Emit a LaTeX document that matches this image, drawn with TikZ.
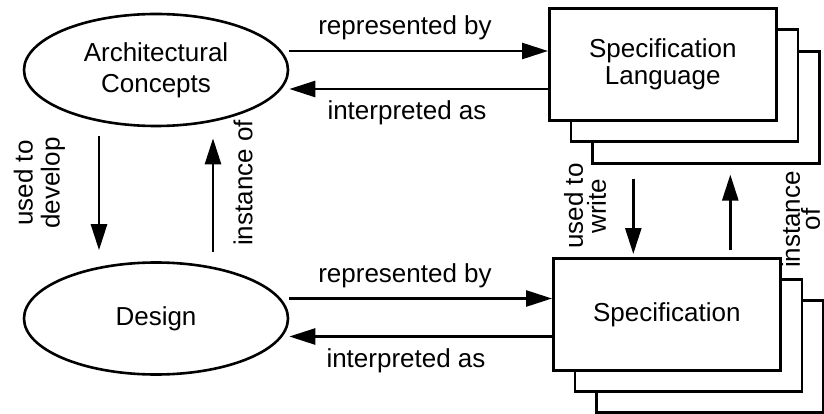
\documentclass[tikz,border=0pt]{standalone}
\usepackage{fontspec}
\setmainfont{Liberation Sans}
\usetikzlibrary{arrows.meta,shapes.geometric,calc}
\begin{document}
\begin{tikzpicture}[x=1pt,y=-1pt,
  every node/.style={font=\fontsize{26}{27}\selectfont},
  concept/.style={ellipse,draw,line width=2.6pt,minimum width=264pt,minimum height=112pt,inner sep=0pt,align=center},
  sheet/.style={rectangle,draw,line width=2.6pt,fill=white,minimum width=227pt,minimum height=112pt,inner sep=0pt,align=center,anchor=north west},
  arr/.style={line width=2.6pt,-{Triangle[length=26pt,width=16pt]}},
  lbl/.style={inner sep=0pt,anchor=base},
  vlbl/.style={inner sep=0pt,rotate=90,align=center}]
\useasboundingbox (0,0) rectangle (824,414);

% concepts
\node[concept] (ac) at (156,70) {Architectural\\[4pt]Concepts};
\node[concept] (ds) at (156,318.5) {Design};

% stacked sheets, back to front
\node[sheet] (sl3) at (591,50) {};
\node[sheet] (sl2) at (569.5,28.5) {};
\node[sheet] (sl) at (548,7) {Specification\\Language};
\node[sheet] (sp3) at (595,299) {};
\node[sheet] (sp2) at (573.5,278) {};
\node[sheet] (sp) at (552,257) {Specification};

% horizontal connectors
\coordinate (r1) at ([yshift=19pt]ac.east);
\coordinate (i1) at ([yshift=-19pt]ac.east);
\coordinate (r2) at ([yshift=20pt]ds.east);
\coordinate (i2) at ([yshift=-18pt]ds.east);
\draw[arr] (r1) -- (r1 -| sl.west);
\draw[arr] (i1 -| sl.west) -- (i1);
\draw[arr] (r2) -- (r2 -| sp.west);
\draw[arr] (i2 -| sp.west) -- (i2);

% vertical connectors, left
\draw[arr] ($(ac.south)+(-57,9)$) -- ($(ds.north)+(-57,-11)$);
\draw[arr] ($(ds.north)+(57,-9)$) -- ($(ac.south)+(57,11)$);

% vertical connectors, right
\draw[arr] ($(sl3.south -| sp.north)+(-33.5,14)$) -- ($(sp.north)+(-33.5,-3)$);
\draw[arr] ($(sp.north)+(63.5,-7)$) -- ($(sl3.south -| sp.north)+(63.5,10)$);

% labels
\node[lbl] (t1) at (405,35) {represented by};
\node[lbl] (t2) at (407,120) {interpreted as};
\node[lbl] (t3) at (405,282) {represented by};
\node[lbl] (t4) at (406,367) {interpreted as};
\node[vlbl] (v1) at (39.5,183) {used to\\develop};
\node[vlbl] (v2) at (243,183) {instance of};
\node[vlbl] (v3) at (585,206) {used to\\[-4pt]write};
\node[vlbl] (v4) at (800.5,219.5) {instance\\[-7pt]of};
\end{tikzpicture}
\end{document}
